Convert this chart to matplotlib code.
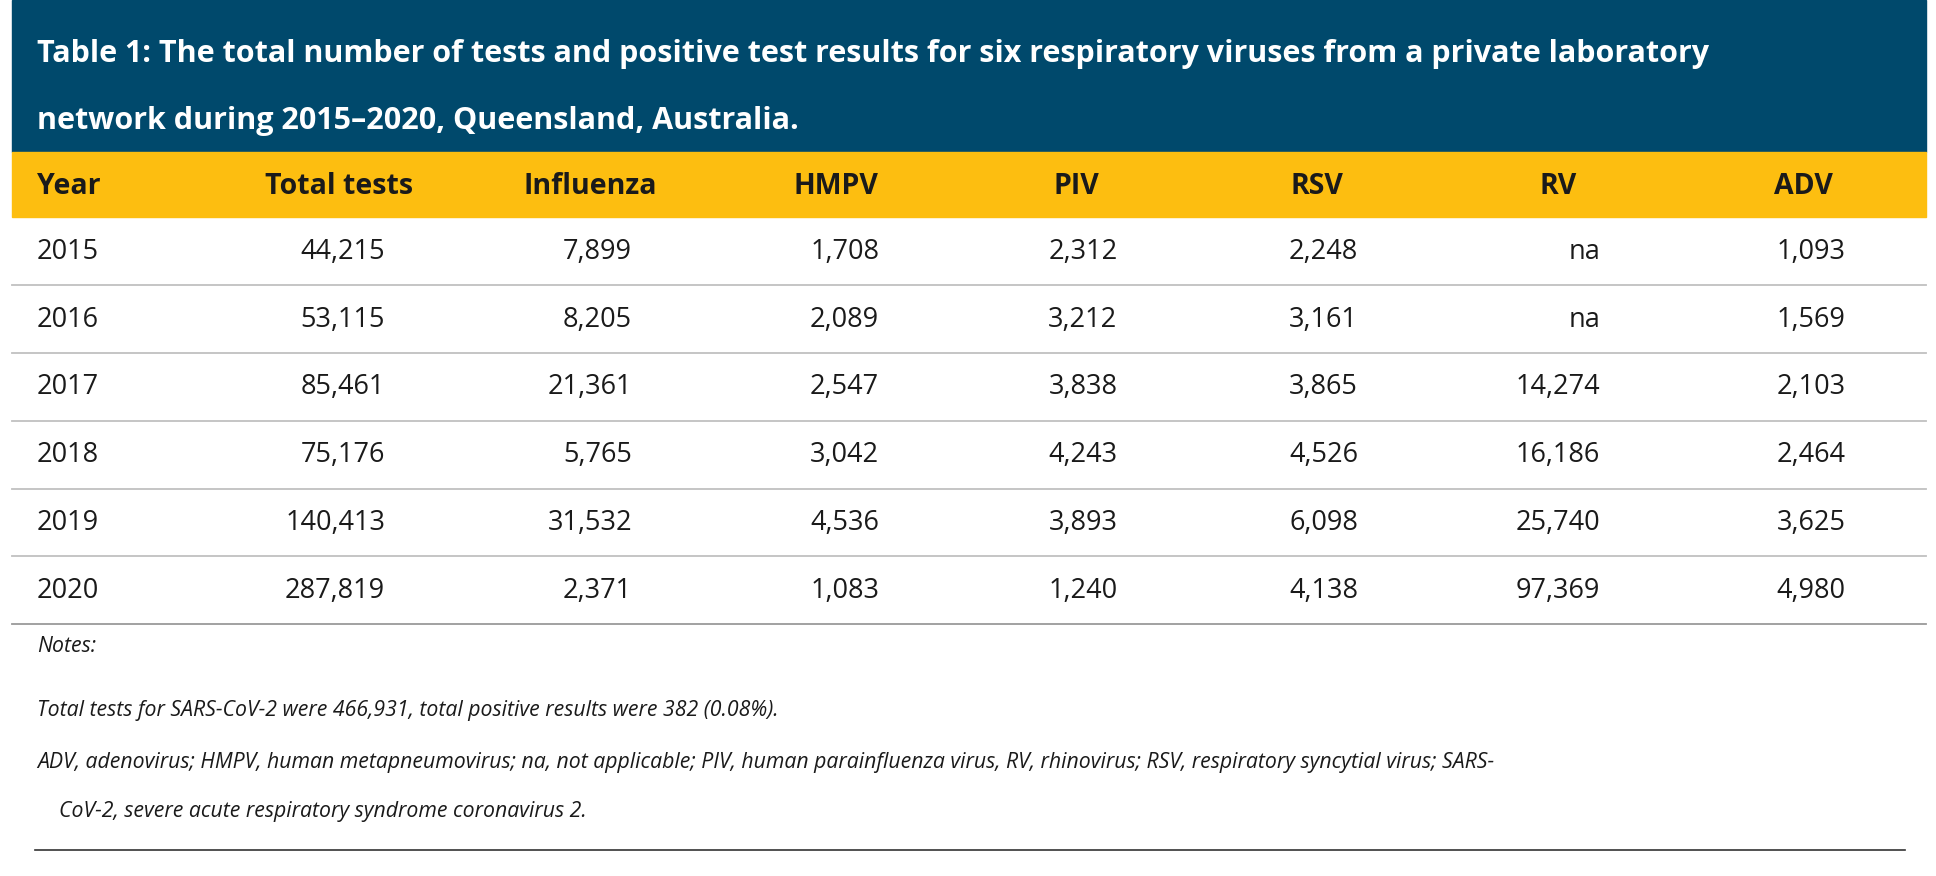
import matplotlib
matplotlib.use("Agg")
import matplotlib.pyplot as plt
from matplotlib.patches import Rectangle

years = ["2015", "2016", "2017", "2018", "2019", "2020"]
headers = ["Year", "Total tests", "Influenza", "HMPV", "PIV", "RSV", "RV", "ADV"]
total_tests = ["44,215", "53,115", "85,461", "75,176", "140,413", "287,819"]
influenza = ["7,899", "8,205", "21,361", "5,765", "31,532", "2,371"]
hmpv = ["1,708", "2,089", "2,547", "3,042", "4,536", "1,083"]
piv = ["2,312", "3,212", "3,838", "4,243", "3,893", "1,240"]
rsv = ["2,248", "3,161", "3,865", "4,526", "6,098", "4,138"]
rv = ["na", "na", "14,274", "16,186", "25,740", "97,369"]
adv = ["1,093", "1,569", "2,103", "2,464", "3,625", "4,980"]
title_lines = ["Table 1: The total number of tests and positive test results for six respiratory viruses from a private laboratory",
               "network during 2015\u20132020, Queensland, Australia."]
notes = ["Notes:",
         "Total tests for SARS-CoV-2 were 466,931, total positive results were 382 (0.08%).",
         "ADV, adenovirus; HMPV, human metapneumovirus; na, not applicable; PIV, human parainfluenza virus, RV, rhinovirus; RSV, respiratory syncytial virus; SARS-",
         "    CoV-2, severe acute respiratory syndrome coronavirus 2."]

W, H = 1568, 710
fig = plt.figure(figsize=(19.36, 8.76), dpi=100)
ax = fig.add_axes([0, 0, 1, 1])
ax.set_xlim(0, W); ax.set_ylim(H, 0); ax.axis("off")
FONT = "Open Sans"
navy = "#00496c"; gold = "#fdbe10"

ax.add_patch(Rectangle((10, 0), 1550, 123, color=navy))
ax.add_patch(Rectangle((10, 123), 1550, 53, color=gold))
for i, t in enumerate(title_lines):
    ax.text(30, 44 + 54 * i, t, color="white", fontsize=22, fontweight="bold",
            family=FONT, va="center", ha="left")

col_hdr_x = [30, 275, 478, 677, 872, 1067, 1262, 1461]
col_val_x = [312, 512, 712, 905, 1100, 1296, 1495]
for j, h in enumerate(headers):
    ax.text(col_hdr_x[j], 151, h, fontsize=20.5, fontweight="bold", family=FONT,
            color="#1a1a1a", va="center", ha="left" if j == 0 else "center")

cols = [total_tests, influenza, hmpv, piv, rsv, rv, adv]
row_h = 55
for i, y in enumerate(years):
    yc = 204 + row_h * i
    ax.text(30, yc, y, fontsize=19.5, family=FONT, color="#1a1a1a", va="center", ha="left")
    for j, c in enumerate(cols):
        ax.text(col_val_x[j], yc, c[i], fontsize=19.5, family=FONT, color="#1a1a1a",
                va="center", ha="right")
    ax.plot([10, 1560], [yc + 27, yc + 27], color="#c0c0c0" if i < 5 else "#9a9a9a", lw=1.3)

note_y = [524, 576, 618, 658]
for t, y in zip(notes, note_y):
    ax.text(30, y, t, fontsize=15.3, style="italic", family=FONT, color="#1a1a1a",
            va="center", ha="left")
ax.plot([28, 1543], [689, 689], color="#333333", lw=1.2)

fig.savefig("out.png", dpi=100)
